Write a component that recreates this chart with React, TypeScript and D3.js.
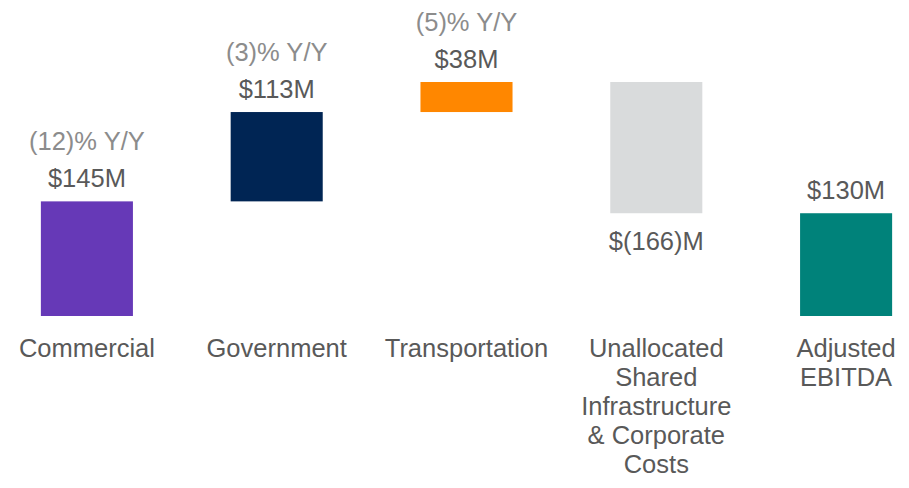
import React from "react";
import * as d3 from "d3";

const categories = ["Commercial", "Government", "Transportation", "Unallocated", "Adjusted EBITDA"];
const categoryLines = [
  ["Commercial"],
  ["Government"],
  ["Transportation"],
  ["Unallocated", "Shared", "Infrastructure", "& Corporate", "Costs"],
  ["Adjusted", "EBITDA"],
];
const values = [145, 113, 38, -166, 130];
const isTotal = [false, false, false, false, true];
const valueLabels = ["$145M", "$113M", "$38M", "$(166)M", "$130M"];
const yoyLabels = ["(12)% Y/Y", "(3)% Y/Y", "(5)% Y/Y", "", ""];
const barColors = ["#6639b7", "#002554", "#ff8700", "#d9dbdc", "#00827a"];

const W = 909;
const H = 488;
const FONT = "'Liberation Sans', Arial, Helvetica, sans-serif";

export default function App() {
  let running = 0;
  const bars = values.map((v, i) => {
    let start: number, end: number;
    if (isTotal[i]) {
      start = 0;
      end = v;
      running = v;
    } else {
      start = running;
      end = running + v;
      running = end;
    }
    return { cat: categories[i], start, end, v, i };
  });
  const maxVal = d3.max(bars, (b) => Math.max(b.start, b.end)) as number;

  const x = d3
    .scaleBand<string>()
    .domain(categories)
    .range([-8, 941])
    .paddingInner(0.515)
    .paddingOuter(0.2575);
  const y = d3.scaleLinear().domain([0, maxVal]).range([316, 82]);

  const textStyle = { fontFamily: FONT, fontSize: 25.5 } as React.CSSProperties;

  return (
    <svg
      width={W}
      height={H}
      style={{ position: "absolute", left: 0, top: 0, background: "#fff" }}
    >
      {bars.map((b) => {
        const x0 = x(b.cat) as number;
        const bw = x.bandwidth();
        const cx = x0 + bw / 2;
        const top = y(Math.max(b.start, b.end));
        const bottom = y(Math.min(b.start, b.end));
        const negative = b.v < 0;
        return (
          <g key={b.cat}>
            <rect x={x0} y={top} width={bw} height={bottom - top} fill={barColors[b.i]} />
            {negative ? (
              <text x={cx} y={bottom + 37} textAnchor="middle" fill="#595959" style={textStyle}>
                {valueLabels[b.i]}
              </text>
            ) : (
              <text x={cx} y={top - 14} textAnchor="middle" fill="#595959" style={textStyle}>
                {valueLabels[b.i]}
              </text>
            )}
            {yoyLabels[b.i] && (
              <text x={cx} y={top - 51} textAnchor="middle" fill="#8c8c8c" style={textStyle}>
                {yoyLabels[b.i]}
              </text>
            )}
            {categoryLines[b.i].map((line, li) => (
              <text
                key={li}
                x={cx}
                y={357 + li * 29}
                textAnchor="middle"
                fill="#595959"
                style={textStyle}
              >
                {line}
              </text>
            ))}
          </g>
        );
      })}
    </svg>
  );
}
